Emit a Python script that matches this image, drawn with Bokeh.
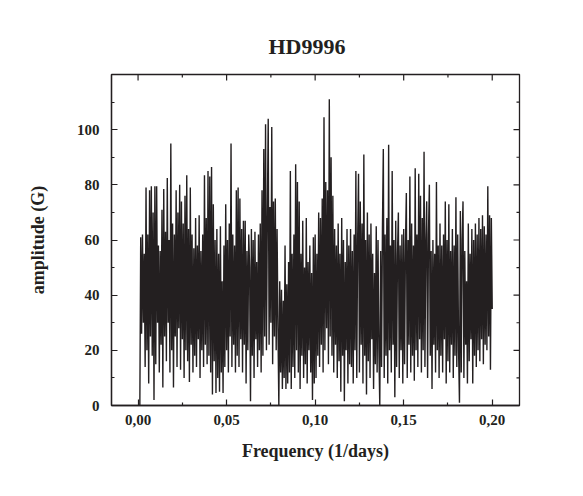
import numpy as np
from bokeh.plotting import figure
from bokeh.models import Range1d, FixedTicker, CustomJSTickFormatter
from bokeh.embed import file_html
from bokeh.resources import INLINE

title_text = "HD9996"
x_label = "Frequency (1/days)"
y_label = "amplitude (G)"
x_ticks = [0.00, 0.05, 0.10, 0.15, 0.20]
y_ticks = [0, 20, 40, 60, 80, 100]
x_min, x_max = -0.015, 0.2154
y_min, y_max = 0, 120
f_start, f_end = 0.001, 0.200

# amplitude, in blocks of 0.01 in frequency (step 0.0005)
amp_000 = [0, 61, 26, 62, 30, 55, 14, 79, 20, 62, 8, 78, 25, 79.5, 18, 70, 2, 79.5]
amp_010 = [15, 79.5, 30, 58, 12, 56, 22, 71, 6.5, 78.5, 25, 63, 16, 82.5, 30, 60, 12, 95, 20, 66]
amp_020 = [6.5, 62, 25, 78, 14, 70, 28, 80, 13, 74, 24, 66, 10, 76, 20, 83.5, 16, 64, 8.5, 79]
amp_030 = [22, 62, 12, 57, 18, 68, 14, 58, 24, 69, 10, 56, 20, 62, 14, 83.5, 22, 68, 15, 85]
amp_040 = [18, 83, 12, 86.5, 4, 73, 16, 60, 4.5, 64, 10, 55, 5, 65, 12, 45, 4.5, 58, 14, 73]
amp_050 = [20, 60, 12, 66, 25, 95, 14, 62, 22, 58, 12, 78, 18, 79, 14, 75, 24, 64, 12, 67]
amp_060 = [22, 67, 8, 56, 20, 62, 50, 1.5, 64, 18, 60, 10, 63, 24, 52, 14, 62, 20, 66, 12]
amp_070 = [78, 18, 93, 25, 102, 20, 68, 104, 22, 72, 30, 101, 15, 74, 25, 75, 20, 64, 28, 0]
amp_080 = [45, 12, 42, 6, 38, 10, 58, 6, 44, 8, 52, 12, 85, 6, 55, 14, 62, 10, 87.5, 20]
amp_090 = [81, 12, 74, 6, 55, 18, 67, 10, 50, 15, 68, 8, 52, 20, 58, 12, 48, 2, 61, 8]
amp_100 = [62, 10, 55, 18, 70, 14, 68, 22, 75, 12, 104.5, 20, 81, 28, 78, 15, 111, 25, 90, 18]
amp_110 = [76, 12, 64, 22, 58, 10, 66, 16, 55, 5, 68, 18, 60, 1.5, 52, 20, 64, 8, 58, 15]
amp_120 = [64, 14, 56, 8, 62, 20, 85, 10, 60, 84, 12, 74, 22, 66, 8, 91, 18, 60, 4, 70]
amp_130 = [16, 62, 10, 66, 24, 55, 6, 48, 15, 65, 12, 60, 20, 0, 56, 14, 64, 93, 10, 62]
amp_140 = [18, 68, 8, 94.5, 20, 58, 12, 85, 22, 60, 3, 67, 14, 55, 70, 10, 58, 20, 62, 8]
amp_150 = [64, 15, 58, 77, 10, 60, 22, 83, 12, 66, 18, 58, 9, 86, 20, 62, 14, 84, 24, 76]
amp_160 = [12, 68, 20, 92, 14, 60, 74, 10, 62, 80, 18, 56, 6, 60, 22, 55, 12, 81, 20, 58]
amp_170 = [10, 66, 18, 58, 12, 62, 24, 74, 8, 60, 16, 73, 12, 56, 22, 64, 10, 58, 18, 75.5]
amp_180 = [14, 62, 20, 1, 70.5, 12, 60, 74, 10, 56, 22, 45, 8, 66, 16, 55, 24, 64, 8, 60]
amp_190 = [18, 66, 14, 62, 20, 68, 16, 64, 24, 69, 15, 65, 22, 62, 20, 79.5, 25, 69, 13, 68, 35]

amplitude = (amp_000 + amp_010 + amp_020 + amp_030 + amp_040 + amp_050 + amp_060
             + amp_070 + amp_080 + amp_090 + amp_100 + amp_110 + amp_120 + amp_130
             + amp_140 + amp_150 + amp_160 + amp_170 + amp_180 + amp_190)
frequency = np.linspace(f_start, f_end, len(amplitude))

FONT = "Liberation Serif"
INK = "#231f20"

p = figure(frame_width=408, frame_height=331,
           min_border_left=111, min_border_right=60,
           min_border_top=74, min_border_bottom=88,
           x_range=Range1d(x_min, x_max), y_range=Range1d(y_min, y_max),
           output_backend="svg", toolbar_location=None,
           x_axis_label=x_label, y_axis_label=y_label)

p.line(frequency, amplitude, line_color=INK, line_width=1.4, line_join="miter")

p.title.text = title_text
p.title.text_font = FONT
p.title.text_font_size = "22px"
p.title.text_font_style = "bold"
p.title.text_color = INK
p.title.align = "left"
p.title.offset = 157
p.title.standoff = 32

p.xgrid.visible = False
p.ygrid.visible = False
p.outline_line_color = INK
p.outline_line_width = 1.3
p.outline_line_alpha = 1.0

x_minor = [(a + b) / 2 for a, b in zip(x_ticks[:-1], x_ticks[1:])]
y_minor = [(a + b) / 2 for a, b in zip(y_ticks[:-1], y_ticks[1:])] + [y_ticks[-1] + 10]

# mirrored ticks on the top and right edges of the frame
p.ray(x=x_ticks, y=[y_max] * len(x_ticks), length=6, angle=-np.pi / 2,
      length_units="screen", line_color=INK, line_width=1.2)
p.ray(x=x_minor, y=[y_max] * len(x_minor), length=3, angle=-np.pi / 2,
      length_units="screen", line_color=INK, line_width=1.2)
p.ray(x=[x_max] * len(y_ticks), y=y_ticks, length=6, angle=np.pi,
      length_units="screen", line_color=INK, line_width=1.2)
p.ray(x=[x_max] * len(y_minor), y=y_minor, length=3, angle=np.pi,
      length_units="screen", line_color=INK, line_width=1.2)

p.xaxis.ticker = FixedTicker(ticks=x_ticks, minor_ticks=x_minor)
p.yaxis.ticker = FixedTicker(ticks=y_ticks, minor_ticks=y_minor)
p.xaxis.formatter = CustomJSTickFormatter(code="return tick.toFixed(2).replace('.', ',');")

for ax in p.axis:
    ax.axis_line_color = INK
    ax.axis_line_width = 1.3
    ax.major_tick_line_color = INK
    ax.minor_tick_line_color = INK
    ax.major_tick_line_width = 1.2
    ax.minor_tick_line_width = 1.2
    ax.major_tick_in = 6
    ax.major_tick_out = 0
    ax.minor_tick_in = 3
    ax.minor_tick_out = 0
    ax.major_label_text_font = FONT
    ax.major_label_text_font_style = "bold"
    ax.major_label_text_font_size = "15px"
    ax.major_label_text_color = INK
    ax.axis_label_text_font = FONT
    ax.axis_label_text_font_style = "bold"
    ax.axis_label_text_font_size = "18px"
    ax.axis_label_text_color = INK

p.xaxis.major_label_standoff = 9
p.xaxis.axis_label_standoff = 13
p.yaxis.major_label_standoff = 12
p.yaxis.axis_label_standoff = 26

open("out.html", "w").write(file_html(p, INLINE))
